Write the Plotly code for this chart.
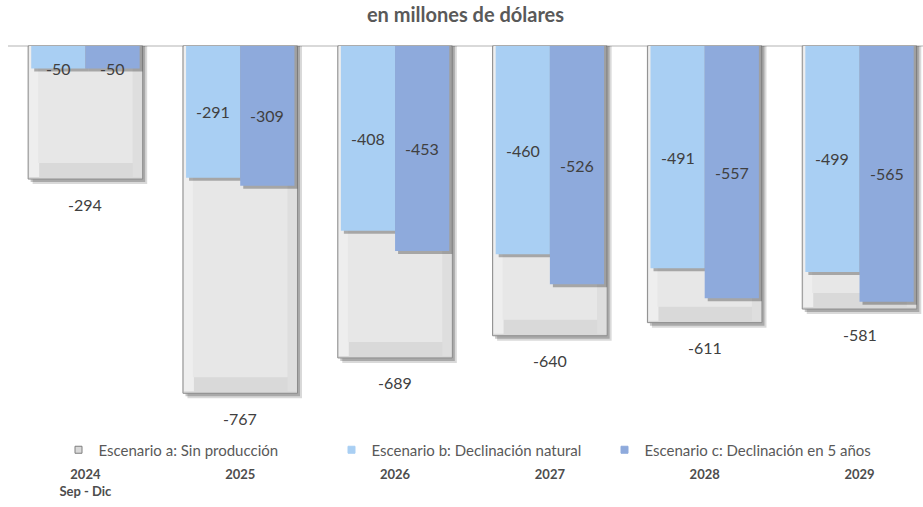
import plotly.graph_objects as go

# Datos (millones de dólares)
periodos = ["2024", "2025", "2026", "2027", "2028", "2029"]
etiquetas_eje = ["<b>2024</b><br><b>Sep - Dic</b>", "<b>2025</b>", "<b>2026</b>",
                 "<b>2027</b>", "<b>2028</b>", "<b>2029</b>"]
escenario_a = [-294, -767, -689, -640, -611, -581]
escenario_b = [-50, -291, -408, -460, -491, -499]
escenario_c = [-50, -309, -453, -526, -557, -565]

nombres = ["Escenario a: Sin producción",
           "Escenario b: Declinación natural",
           "Escenario c: Declinación en 5 años"]
colores = ["#d9d9d9", "#a9cff3", "#8eaadc"]

W, H = 923, 507
M_L, M_R, M_T, M_B = 8, 0, 45, 87
Y_MIN, Y_MAX = -826, 2
X_MIN, X_MAX = -0.5, 5.41

plot_w = W - M_L - M_R
plot_h = H - M_T - M_B
px_x = plot_w / (X_MAX - X_MIN)       # pixels per category
px_y = plot_h / (Y_MAX - Y_MIN)       # pixels per unit

def ux(p):
    return p / px_x

def uy(p):
    return p / px_y

x = list(range(len(periodos)))

GRAY_W = 0.74
BLUE_W = 0.35
FONT = "Lato"

fig = go.Figure()

# --- Escenario a: barra gris con sombra y bisel ---
fig.add_trace(go.Bar(
    x=x, y=[v - uy(5) for v in escenario_a], width=GRAY_W, offset=-GRAY_W / 2 + ux(4.5),
    marker=dict(color="rgba(0,0,0,0.15)", line=dict(width=0)),
    showlegend=False, hoverinfo="skip"))
fig.add_trace(go.Bar(
    x=x, y=[v - uy(3) for v in escenario_a], width=GRAY_W, offset=-GRAY_W / 2 + ux(2.5),
    marker=dict(color="rgba(0,0,0,0.22)", line=dict(width=0)),
    showlegend=False, hoverinfo="skip"))
fig.add_trace(go.Bar(
    x=x, y=escenario_a, width=GRAY_W, offset=-GRAY_W / 2, name=nombres[0],
    marker=dict(color=colores[0], line=dict(color="#8c8c8c", width=1)),
    showlegend=False,
    hovertemplate="%{y}<extra>" + nombres[0] + "</extra>"))
# bisel izquierdo (más claro)
fig.add_trace(go.Bar(
    x=x, y=[v + uy(2) for v in escenario_a], width=ux(10), offset=-GRAY_W / 2 + ux(1),
    marker=dict(color="#eeeeee", line=dict(width=0)),
    showlegend=False, hoverinfo="skip"))
# bisel derecho
fig.add_trace(go.Bar(
    x=x, y=[v + uy(2) for v in escenario_a], width=ux(9), offset=GRAY_W / 2 - ux(10),
    marker=dict(color="#dedede", line=dict(width=0)),
    showlegend=False, hoverinfo="skip"))
# panel central
fig.add_trace(go.Bar(
    x=x, y=[v + uy(16) for v in escenario_a], width=GRAY_W - ux(20), offset=-GRAY_W / 2 + ux(10),
    marker=dict(color="#e7e7e7", line=dict(width=0)),
    showlegend=False, hoverinfo="skip"))

# --- Escenarios b y c ---
def blue_bar(vals, offset, color, name):
    fig.add_trace(go.Bar(
        x=x, y=[v - uy(3) for v in vals], width=BLUE_W, offset=offset + ux(3),
        marker=dict(color="rgba(0,0,0,0.28)", line=dict(width=0)),
        showlegend=False, hoverinfo="skip"))
    fig.add_trace(go.Bar(
        x=x, y=vals, width=BLUE_W, offset=offset, name=name,
        marker=dict(color=color, line=dict(width=0)),
        showlegend=False,
        hovertemplate="%{y}<extra>" + name + "</extra>"))

blue_bar(escenario_b, -BLUE_W, colores[1], nombres[1])
blue_bar(escenario_c, 0, colores[2], nombres[2])

# --- Leyenda con marcadores cuadrados pequeños ---
bordes = ["#7f7f7f", colores[1], colores[2]]
for nombre, color, borde in zip(nombres, colores, bordes):
    fig.add_trace(go.Scatter(
        x=[None], y=[None], mode="markers", name=nombre,
        marker=dict(symbol="square", size=7, color=color, line=dict(color=borde, width=1))))

# --- Etiquetas de valores ---
annotations = []
lab_font = dict(family=FONT, size=16, color="#404040")
for i, v in enumerate(escenario_a):
    annotations.append(dict(x=i, y=v, text=str(v), showarrow=False, yshift=-25,
                            xref="x", yref="y", font=lab_font))
for vals, dx in ((escenario_b, -BLUE_W / 2), (escenario_c, BLUE_W / 2)):
    for i, v in enumerate(vals):
        yy = v if abs(v) < 100 else v / 2
        annotations.append(dict(x=i + dx, y=yy, text=str(v), showarrow=False,
                                xref="x", yref="y", font=lab_font))

fig.update_layout(
    width=W, height=H,
    margin=dict(l=M_L, r=M_R, t=M_T, b=M_B),
    paper_bgcolor="white", plot_bgcolor="white",
    barmode="overlay",
    title=dict(text="<b>en millones de dólares</b>", x=0.5, xref="paper",
               y=1 - 15 / H, yanchor="middle",
               font=dict(family=FONT, size=20, color="#595959")),
    xaxis=dict(range=[X_MIN, X_MAX], tickmode="array", tickvals=x, ticktext=etiquetas_eje,
               showgrid=False, zeroline=False, showline=False, ticks="",
               ticklabelstandoff=45,
               tickfont=dict(family=FONT, size=13, color="#4d4d4d")),
    yaxis=dict(range=[Y_MIN, Y_MAX], showgrid=False, showticklabels=False, ticks="",
               zeroline=True, zerolinecolor="#d9d9d9", zerolinewidth=2, showline=False),
    legend=dict(orientation="h", x=(468 - M_L) / plot_w, xanchor="center",
                y=-30 / plot_h, yanchor="middle",
                font=dict(family=FONT, size=15, color="#595959"),
                itemwidth=30, entrywidth=228, traceorder="normal",
                bgcolor="rgba(0,0,0,0)"),
    annotations=annotations,
    showlegend=True,
)

fig.write_html("out.html")
